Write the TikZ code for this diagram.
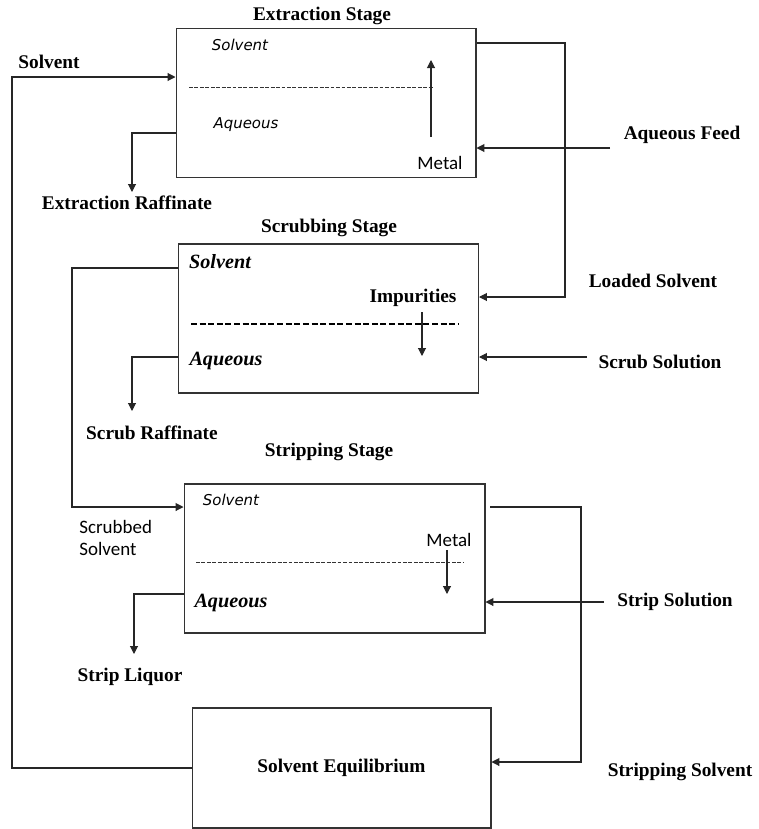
\documentclass[tikz,border=0pt]{standalone}
\usepackage{fontspec}
\setmainfont{Liberation Serif}
\newfontfamily\calibrifont{Carlito}
\newfontfamily\dejavufont{DejaVu Sans}
\usetikzlibrary{arrows.meta}

\begin{document}
\begin{tikzpicture}[x=0.02cm, y=-0.02cm,
  stagebox/.style={draw=black!80, line width=0.6pt, minimum width=6cm, minimum height=2.98cm, inner sep=0pt},
  flow/.style={draw=black!85, line width=0.6pt},
  flowin/.style={flow, -{Triangle[length=1.6mm, width=1.6mm]}},
  thindash/.style={black!80, line width=0.45pt, dash pattern=on 2.2pt off 0.9pt},
  boldlabel/.style={font=\fontsize{11}{13}\selectfont\bfseries, inner sep=0pt},
  phasesans/.style={font=\fontsize{8.5}{10}\selectfont\dejavufont\itshape, inner sep=0pt},
  phaseserif/.style={font=\fontsize{11.5}{13}\selectfont\bfseries\itshape, inner sep=0pt},
  calibrilabel/.style={font=\fontsize{10.8}{13}\selectfont\calibrifont, inner sep=0pt}]
  \useasboundingbox (0,0) rectangle (758,829);

  % Stage boxes
  \node[stagebox] (ext) at (326,103) {};
  \node[stagebox] (scr) at (328.5,318.5) {};
  \node[stagebox, minimum width=6.02cm] (str) at (334.5,558.5) {};
  \node[stagebox, minimum width=5.98cm, minimum height=2.4cm] (eq) at (341.5,768) {};
  \node[boldlabel] (eqlabel) at (eq) {Solvent Equilibrium};

  % Stage titles
  \node[boldlabel] (exttitle) at (322,16) {Extraction Stage};
  \node[boldlabel] (scrtitle) at (329,228) {Scrubbing Stage};
  \node[boldlabel] (strtitle) at (329,452) {Stripping Stage};

  % Extraction stage inside
  \node[phasesans] (extsol) at (240,45) {Solvent};
  \node[phasesans] (extaq) at (246,125) {Aqueous};
  \node[calibrilabel] (extmetal) at (440,163) {Metal};
  \draw[thindash] (189,87) -- (433,87);
  \coordinate (extup) at (431,60);
  \draw[flowin] (431,137) -- (extup);

  % Scrubbing stage inside
  \node[phaseserif] (scrsol) at (220,262) {Solvent};
  \node[phaseserif] (scraq) at (226,361) {Aqueous};
  \node[boldlabel] (impur) at (413,298) {Impurities};
  \draw[black, line width=1.1pt, dash pattern=on 3.4pt off 1.5pt] (191,324) -- (458,324);
  \coordinate (scrdown) at (422,356);
  \draw[flowin] (impur.south -| scrdown) ++(0,5) -- (scrdown);

  % Stripping stage inside
  \node[phasesans] (strsol) at (231,500) {Solvent};
  \node[phaseserif] (straq) at (231,603) {Aqueous};
  \node[calibrilabel] (strmetal) at (449,540) {Metal};
  \draw[thindash] (196,562) -- (463,562);
  \coordinate (strdown) at (447,594);
  \draw[flowin] (strmetal.south -| strdown) ++(0,3) -- (strdown);

  % Flow labels
  \node[boldlabel] (solvlabel) at (49,62) {Solvent};
  \node[boldlabel] (xraffl) at (127,203) {Extraction Raffinate};
  \node[boldlabel] (afeed) at (682,135) {Aqueous Feed};
  \node[boldlabel] (loaded) at (653,281) {Loaded Solvent};
  \node[boldlabel] (scrsoll) at (660,362) {Scrub Solution};
  \node[boldlabel] (sraffl) at (152,433) {Scrub Raffinate};
  \node[calibrilabel, anchor=west, align=left] (scrubbed) at (79,538) {Scrubbed\\Solvent};
  \node[boldlabel] (sliql) at (130,677) {Strip Liquor};
  \node[boldlabel] (ssoll) at (675,602) {Strip Solution};
  \node[boldlabel] (stsoll) at (680,772) {Stripping Solvent};

  % Connectors
  \coordinate (recyc) at (12,77);
  \draw[flowin] (eq.west) -| (recyc) -- (ext.west |- recyc);

  \coordinate (xraff) at (132,192);
  \draw[flowin] (ext.west |- 0,133) -| (xraff);

  \coordinate (afin) at (610,148);
  \draw[flowin] (afin) -- (ext.east |- afin);

  \coordinate (lsc) at (565,297);
  \draw[flowin] (ext.east |- 0,43) -| (lsc) -- (scr.east |- lsc);

  \coordinate (ssin) at (587,357);
  \draw[flowin] (ssin) -- (scr.east |- ssin);

  \coordinate (sraff) at (132,411);
  \draw[flowin] (scr.west |- 0,357) -| (sraff);

  \coordinate (ssc) at (72,507);
  \draw[flowin] (scr.west |- 0,268) -| (ssc) -- (str.west |- ssc);

  \coordinate (sliq) at (134,654);
  \draw[flowin] (str.west |- 0,594) -| (sliq);

  \coordinate (strin) at (604,602);
  \draw[flowin] (strin) -- (str.east |- strin);

  \coordinate (strout) at (490,507);
  \coordinate (strc) at (581,762);
  \draw[flowin] (strout) -| (strc) -- (eq.east |- strc);
\end{tikzpicture}
\end{document}
